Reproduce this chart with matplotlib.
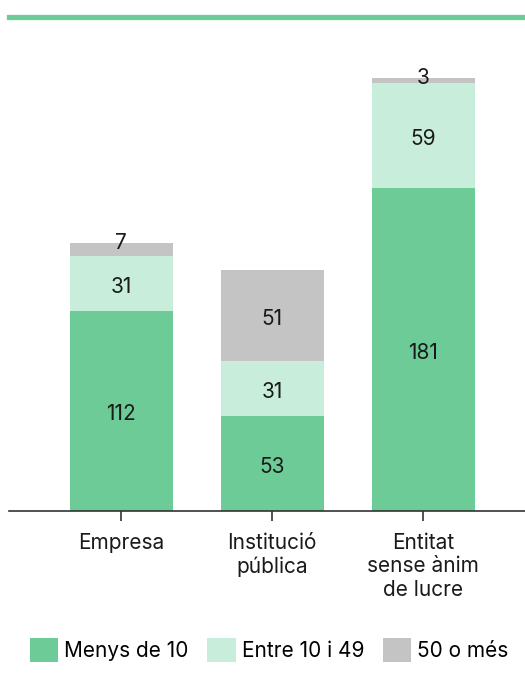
import matplotlib.pyplot as plt
from matplotlib.patches import Patch
from matplotlib.lines import Line2D

plt.rcParams['font.family'] = ['Inter', 'DejaVu Sans']

# --- Data ---
categories = ["Empresa", "Institució\npública", "Entitat\nsense ànim\nde lucre"]
series = ["Menys de 10", "Entre 10 i 49", "50 o més"]
menys_10 = [112, 53, 181]
entre_10_49 = [31, 31, 59]
mes_50 = [7, 51, 3]

colors = ['#6dcb98', '#c9eddb', '#c4c4c4']
fs = 15

fig = plt.figure(figsize=(5.25, 6.79), dpi=100)
ax = fig.add_axes([9 / 525, 1 - 510.5 / 679, 1 - 9 / 525, (510.5 - 29.4) / 679])

x = list(range(len(categories)))
width = 0.682
bottom = [0, 0, 0]
for vals, col in zip([menys_10, entre_10_49, mes_50], colors):
    ax.bar(x, vals, width=width, bottom=bottom, color=col, edgecolor='none', zorder=2)
    for xi, v, b in zip(x, vals, bottom):
        if v < 10:
            ypos = b + v + 1.0
        else:
            ypos = b + v / 2 - 1.0
        ax.text(xi, ypos, str(v), ha='center', va='center_baseline', fontsize=fs,
                color='#1a1a1a', zorder=3)
    bottom = [b + v for b, v in zip(bottom, vals)]

ax.set_xlim(-0.742, 2.675)
ax.set_ylim(0, 270)
for s in ['top', 'right', 'left']:
    ax.spines[s].set_visible(False)
ax.spines['bottom'].set_color('#333333')
ax.spines['bottom'].set_linewidth(1.2)
ax.set_yticks([])
ax.set_xticks(x)
ax.set_xticklabels(categories, fontsize=fs, color='#1a1a1a', linespacing=1.22)
ax.tick_params(axis='x', length=7, width=1.2, color='#333333', pad=9)

# top green rule
fig.add_artist(Line2D([9 / 525, 1], [1 - 16.5 / 679] * 2, color='#6dcb98',
                      linewidth=3.8, transform=fig.transFigure))

handles = [Patch(facecolor=c, edgecolor='none', label=l) for c, l in zip(colors, series)]
fig.legend(handles=handles, loc='center', bbox_to_anchor=(0.513, 1 - 650 / 679),
           ncol=3, frameon=False, fontsize=fs, handlelength=1.35, handleheight=1.35,
           handletextpad=0.3, columnspacing=0.9, borderaxespad=0)

fig.savefig('out.png', dpi=100)
